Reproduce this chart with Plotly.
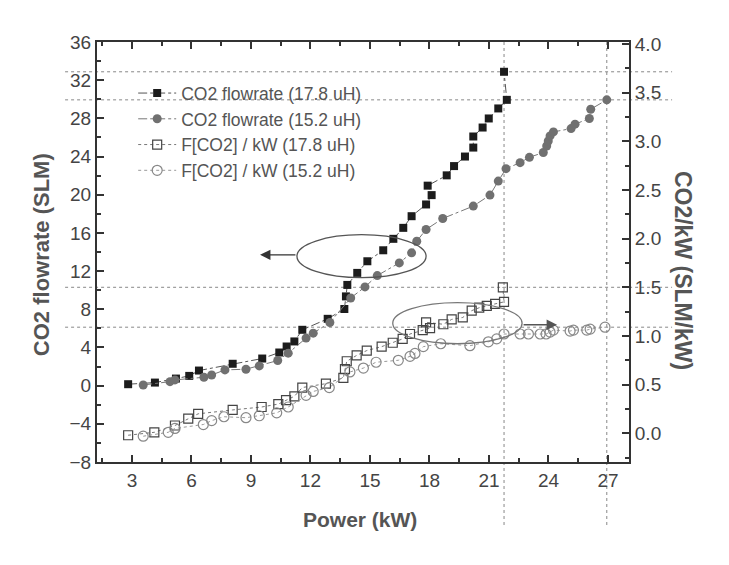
import plotly.graph_objects as go

# ---------------- data ----------------
power_178 = [2.81, 4.16, 5.22, 5.89, 6.38, 8.08, 9.57, 10.43, 10.80, 11.19, 11.59, 12.87, 13.71,
             13.79, 13.86, 14.36, 14.87, 15.67, 16.18, 16.68, 17.10, 17.83, 18.11, 17.91, 18.87,
             19.24, 19.79, 20.21, 20.21, 20.68, 20.99, 21.47, 21.90, 21.76]
flow_178 = [0.15, 0.32, 0.74, 1.02, 1.58, 2.29, 2.84, 3.47, 4.10, 4.63, 5.85, 7.00, 8.03,
            9.35, 10.55, 11.81, 13.03, 14.18, 15.38, 16.53, 17.75, 18.98, 19.96, 20.95, 22.03,
            23.00, 24.00, 24.94, 26.10, 27.04, 27.99, 29.04, 29.94, 32.88]

power_152 = [3.57, 4.92, 5.17, 6.63, 7.02, 7.69, 8.75, 9.42, 10.35, 10.88, 11.78, 12.14, 12.98,
             14.03, 14.75, 15.37, 16.48, 17.10, 17.36, 17.83, 18.67, 20.21, 21.05, 21.47, 21.86,
             22.57, 23.04, 23.74, 23.91, 23.99, 24.08, 24.25, 25.14, 25.34, 26.06, 26.13, 26.94]
flow_152 = [0.07, 0.42, 0.60, 0.88, 1.12, 1.65, 1.72, 2.07, 2.63, 3.40, 4.98, 5.50, 6.62,
            9.18, 10.34, 11.53, 12.86, 13.91, 15.13, 16.36, 17.51, 18.81, 19.96, 21.43, 22.73,
            23.36, 23.92, 24.42, 25.11, 25.63, 26.16, 26.58, 26.93, 27.39, 27.99, 28.96, 29.94]

power_178_kw = [2.81, 4.13, 5.17, 5.84, 6.34, 8.08, 9.54, 10.38, 10.77, 11.19, 11.59, 12.78, 13.66,
                13.74, 13.83, 14.33, 14.84, 15.59, 16.15, 16.65, 17.02, 17.66, 18.03, 17.83, 18.70,
                19.12, 19.68, 20.13, 20.51, 20.89, 21.31, 21.76, 21.70]
ratio_178 = [-0.02, 0.01, 0.08, 0.15, 0.20, 0.24, 0.27, 0.30, 0.34, 0.38, 0.47, 0.51, 0.57,
             0.66, 0.74, 0.80, 0.85, 0.89, 0.93, 0.97, 1.02, 1.06, 1.08, 1.14, 1.12,
             1.17, 1.19, 1.26, 1.29, 1.31, 1.33, 1.35, 1.50]

power_152_kw = [3.57, 4.83, 5.17, 6.60, 7.02, 7.64, 8.75, 9.42, 10.30, 10.88, 11.78, 12.14, 12.95,
                13.99, 14.67, 15.31, 16.43, 17.02, 17.27, 17.69, 18.57, 20.04, 20.97, 21.39, 21.76,
                22.57, 22.99, 23.58, 23.88, 24.08, 24.25, 25.09, 25.26, 25.93, 26.10, 26.85]
ratio_152 = [-0.03, 0.01, 0.05, 0.09, 0.13, 0.17, 0.16, 0.18, 0.21, 0.27, 0.39, 0.43, 0.47,
             0.63, 0.67, 0.73, 0.75, 0.79, 0.82, 0.89, 0.92, 0.90, 0.94, 0.97, 1.02,
             1.02, 1.02, 1.02, 1.02, 1.04, 1.06, 1.05, 1.06, 1.06, 1.07, 1.09]

legend_names = ["CO2 flowrate (17.8 uH)", "CO2 flowrate (15.2 uH)",
                "F[CO2] / kW (17.8 uH)", "F[CO2] / kW (15.2 uH)"]
x_ticks = [3, 6, 9, 12, 15, 18, 21, 24, 27]
y_left_ticks = [-8, -4, 0, 4, 8, 12, 16, 20, 24, 28, 32, 36]
y_right_ticks = [0.0, 0.5, 1.0, 1.5, 2.0, 2.5, 3.0, 3.5, 4.0]

# ellipse annotations (data units) and arrow targets
ellipse_left = dict(x=[11.32, 17.83], y=[11.31, 15.81])
ellipse_right = dict(x=[16.15, 22.67], y=[0.92, 1.342])
arrow_left = dict(tail=(11.32, 13.7), head=(9.46, 13.7))
arrow_right = dict(tail=(22.67, 1.115), head=(24.43, 1.115))

# ---------------- layout geometry ----------------
X_RANGE = [1.24, 28.06]
YL_RANGE = [-8, 36]
YR_RANGE = [-0.295, 4.02]
FONT = "Liberation Sans, Arial, sans-serif"


def px(v, r):
    return (v - r[0]) / (r[1] - r[0])


fig = go.Figure()

fig.add_trace(go.Scatter(
    x=power_178, y=flow_178, name=legend_names[0], mode="lines+markers",
    line=dict(color="#555", width=1, dash="dashdot"),
    marker=dict(symbol="square", size=8, color="#1c1c1c")))
fig.add_trace(go.Scatter(
    x=power_152, y=flow_152, name=legend_names[1], mode="lines+markers",
    line=dict(color="#777", width=1, dash="dashdot"),
    marker=dict(symbol="circle", size=9, color="#707070")))
fig.add_trace(go.Scatter(
    x=power_178_kw, y=ratio_178, name=legend_names[2], mode="lines+markers", yaxis="y2",
    line=dict(color="#777", width=1, dash="dot"),
    marker=dict(symbol="square-open", size=9, color="#444", line=dict(width=1.2))))
fig.add_trace(go.Scatter(
    x=power_152_kw, y=ratio_152, name=legend_names[3], mode="lines+markers", yaxis="y2",
    line=dict(color="#999", width=1, dash="dot"),
    marker=dict(symbol="circle-open", size=10, color="#888", line=dict(width=1.2))))

shapes = []
dash_style = dict(color="#888", width=1, dash="3px,3px")
# horizontal guide lines at the maxima of each series (drawn past the frame)
for val, rng in [(max(flow_178), YL_RANGE), (max(flow_152), YL_RANGE),
                 (max(ratio_178), YR_RANGE), (max(ratio_152), YR_RANGE)]:
    yp = px(val, rng)
    shapes.append(dict(type="line", xref="paper", yref="paper", x0=-0.06, x1=1.081,
                       y0=yp, y1=yp, line=dash_style, layer="below"))
# vertical guide lines at the power of the maximum flow
for pw in [power_178[flow_178.index(max(flow_178))], power_152[flow_152.index(max(flow_152))]]:
    xp = px(pw, X_RANGE)
    shapes.append(dict(type="line", xref="paper", yref="paper", x0=xp, x1=xp,
                       y0=-0.15, y1=1.0, line=dash_style, layer="below"))
shapes.append(dict(type="circle", xref="x", yref="y",
                   x0=ellipse_left["x"][0], x1=ellipse_left["x"][1],
                   y0=ellipse_left["y"][0], y1=ellipse_left["y"][1],
                   line=dict(color="#555", width=1.3)))
shapes.append(dict(type="circle", xref="x", yref="y2",
                   x0=ellipse_right["x"][0], x1=ellipse_right["x"][1],
                   y0=ellipse_right["y"][0], y1=ellipse_right["y"][1],
                   line=dict(color="#777", width=1.3)))

title_font = dict(color="#555", family=FONT)
annotations = [
    dict(x=arrow_left["head"][0], y=arrow_left["head"][1], xref="x", yref="y",
         ax=arrow_left["tail"][0], ay=arrow_left["tail"][1], axref="x", ayref="y",
         text="", showarrow=True, arrowhead=2, arrowsize=1.6, arrowwidth=1.3, arrowcolor="#333"),
    dict(x=arrow_right["head"][0], y=arrow_right["head"][1], xref="x", yref="y2",
         ax=arrow_right["tail"][0], ay=arrow_right["tail"][1], axref="x", ayref="y2",
         text="", showarrow=True, arrowhead=2, arrowsize=1.6, arrowwidth=1.3, arrowcolor="#555"),
    dict(text="<b>CO2 flowrate (SLM)</b>", xref="paper", yref="paper", x=-0.103, y=0.493,
         xanchor="center", yanchor="middle", textangle=-90, showarrow=False,
         font=dict(size=22, **title_font)),
    dict(text="<b>CO2/kW (SLM/kW)</b>", xref="paper", yref="paper", x=1.1015, y=0.455,
         xanchor="center", yanchor="middle", textangle=90, showarrow=False,
         font=dict(size=23, **title_font)),
    dict(text="<b>Power (kW)</b>", xref="paper", yref="paper", x=0.494, y=-0.138,
         xanchor="center", yanchor="middle", showarrow=False,
         font=dict(size=21, **title_font)),
]

axis_common = dict(showgrid=False, zeroline=False, showline=True, linecolor="#333",
                   linewidth=2, ticks="inside", tickcolor="#333", tickwidth=1.5, ticklen=7,
                   tickfont=dict(size=19, color="#444", family=FONT))

# the page body has an 8px default margin, so the figure is 8px smaller and shifted
fig.update_layout(
    width=721, height=557,
    margin=dict(l=89, r=100, t=34, b=103),
    paper_bgcolor="white", plot_bgcolor="white",
    font=dict(family=FONT, color="#444"),
    xaxis=dict(range=X_RANGE, tickvals=x_ticks, mirror="ticks",
               minor=dict(ticks="inside", ticklen=4, dtick=1.5, tick0=0, tickcolor="#333"),
               **axis_common),
    yaxis=dict(range=YL_RANGE, tickvals=y_left_ticks,
               minor=dict(ticks="inside", ticklen=4, dtick=2, tick0=0, tickcolor="#333"),
               **axis_common),
    yaxis2=dict(range=YR_RANGE, tickvals=y_right_ticks, ticktext=[f"{v:.1f}" for v in y_right_ticks],
                overlaying="y", side="right",
                minor=dict(ticks="inside", ticklen=4, dtick=0.25, tick0=0, tickcolor="#333"),
                **axis_common),
    legend=dict(x=0.068, y=0.921, xanchor="left", yanchor="top", bgcolor="rgba(0,0,0,0)",
                itemwidth=38,
                font=dict(size=17.5, color="#555", family=FONT), tracegroupgap=0),
    shapes=shapes, annotations=annotations,
)

fig.write_html("out.html")
